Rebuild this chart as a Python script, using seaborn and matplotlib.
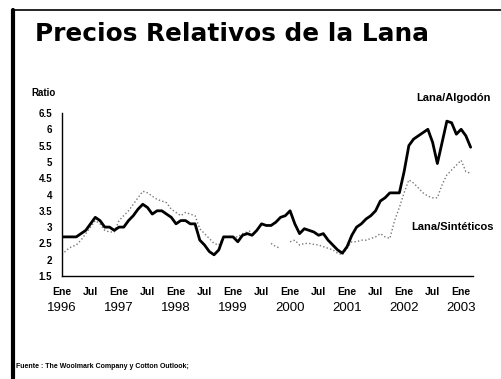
import numpy as np
import pandas as pd
import matplotlib
matplotlib.use("Agg")
import matplotlib.pyplot as plt
import seaborn as sns
from matplotlib.lines import Line2D

# ---- data (monthly, Jan 1996 = month 0 .. Mar 2003 = month 86) ----
months = list(range(87))
lana_algodon = [2.7, 2.7, 2.7, 2.7, 2.8, 2.9, 3.1, 3.3, 3.2, 3.0, 3.0, 2.9,
                3.0, 3.0, 3.2, 3.35, 3.55, 3.7, 3.6, 3.4, 3.5, 3.5, 3.4, 3.3,
                3.1, 3.2, 3.2, 3.1, 3.1, 2.6, 2.45, 2.25, 2.15, 2.3, 2.7, 2.7,
                2.7, 2.55, 2.75, 2.8, 2.75, 2.9, 3.1, 3.05, 3.05, 3.15, 3.3, 3.35,
                3.5, 3.1, 2.8, 2.95, 2.9, 2.85, 2.75, 2.8, 2.6, 2.45, 2.3, 2.2,
                2.4, 2.75, 3.0, 3.1, 3.25, 3.35, 3.5, 3.8, 3.9, 4.05, 4.05, 4.05,
                4.7, 5.5, 5.7, 5.8, 5.9, 6.0, 5.6, 4.95, 5.6, 6.25, 6.2, 5.85,
                6.0, 5.8, 5.45]
lana_sinteticos = [2.15, 2.3, 2.4, 2.45, 2.6, 2.8, 3.0, 3.2, 3.1, 2.9, 2.85, 2.85,
                   3.2, 3.35, 3.5, 3.7, 3.9, 4.1, 4.05, 3.95, 3.85, 3.8, 3.75, 3.55,
                   3.45, 3.35, 3.45, 3.4, 3.35, 2.95, 2.8, 2.65, 2.5, 2.45, 2.7, 2.7,
                   2.7, 2.7, 2.8, 2.85, 2.9, np.nan, np.nan, np.nan, 2.5, 2.4, 2.35, np.nan,
                   2.55, 2.6, 2.45, 2.5, 2.5, 2.47, 2.45, 2.4, 2.35, 2.3, 2.2, 2.15,
                   2.35, 2.55, 2.55, 2.6, 2.6, 2.65, 2.7, 2.8, 2.7, 2.65, 3.2, 3.6,
                   4.05, 4.45, 4.35, 4.2, 4.05, 3.95, 3.9, 3.9, 4.3, 4.6, 4.75, 4.9,
                   5.05, 4.7, 4.65]
tick_months = [0, 6, 12, 18, 24, 30, 36, 42, 48, 54, 60, 66, 72, 78, 84]
tick_labels = ["Ene", "Jul"] * 7 + ["Ene"]
years = ["1996", "1997", "1998", "1999", "2000", "2001", "2002", "2003"]
yticks = [1.5, 2, 2.5, 3, 3.5, 4, 4.5, 5, 5.5, 6, 6.5]

sns.set_theme(style="white")
plt.rcParams["font.family"] = ["Liberation Sans", "DejaVu Sans"]
plt.rcParams["text.color"] = "black"
plt.rcParams["xtick.color"] = "black"
plt.rcParams["ytick.color"] = "black"

df1 = pd.DataFrame({"mes": months, "ratio": lana_algodon})
seg = np.cumsum(np.isnan(lana_sinteticos))
df2 = pd.DataFrame({"mes": months, "ratio": lana_sinteticos, "seg": seg}).dropna()

fig = plt.figure(figsize=(5.01, 3.79), dpi=100)
ax = fig.add_axes([62 / 501, 1 - 276 / 379, (473 - 62) / 501, (276 - 113) / 379])

sns.lineplot(data=df2, x="mes", y="ratio", units="seg", estimator=None,
             color="#777777", linestyle=(0, (1, 1.6)), linewidth=1.0, ax=ax)
sns.lineplot(data=df1, x="mes", y="ratio", color="black", linewidth=2.0, ax=ax)

ax.set_xlim(0, 86.5)
ax.set_ylim(1.5, 6.5)
ax.set_xlabel("")
ax.set_ylabel("")
for s in ["top", "right"]:
    ax.spines[s].set_visible(False)
for s in ["left", "bottom"]:
    ax.spines[s].set_color("black")
    ax.spines[s].set_linewidth(1.0)

ax.set_yticks(yticks)
ax.set_yticklabels([f"{v:g}" for v in yticks], fontsize=7, fontweight="bold")
ax.tick_params(axis="y", length=2, width=0.8, pad=5, direction="out", color="black")
ax.set_xticks(tick_months)
ax.set_xticklabels(tick_labels, fontsize=7.5, fontweight="bold")
ax.tick_params(axis="x", length=3, width=0.8, pad=8, direction="in", color="black")

for i, y in enumerate(years):
    ax.text(tick_months[2 * i], -0.196, y, transform=ax.get_xaxis_transform(),
            ha="center", va="center", fontsize=9.5)

fig.text(35 / 501, 1 - 34 / 379, "Precios Relativos de la Lana", fontsize=17.8,
         fontweight="bold", family="DejaVu Sans", ha="left", va="center")
fig.text(31 / 501, 1 - 93 / 379, "Ratio", fontsize=7, fontweight="bold",
         ha="left", va="center")
fig.text(416 / 501, 1 - 98 / 379, "Lana/Algodón", fontsize=8, fontweight="bold",
         ha="left", va="center")
fig.text(411 / 501, 1 - 227 / 379, "Lana/Sintéticos", fontsize=8, fontweight="bold",
         ha="left", va="center")
fig.text(16 / 501, 1 - 367 / 379, "Fuente : The Woolmark Company y Cotton Outlook;",
         fontsize=5, fontweight="bold", ha="left", va="center")

# frame
fig.add_artist(Line2D([13 / 501, 13 / 501], [0, 1 - 10 / 379], color="black",
                      linewidth=3.0, transform=fig.transFigure))
fig.add_artist(Line2D([12 / 501, 1], [1 - 10 / 379, 1 - 10 / 379], color="black",
                      linewidth=1.2, transform=fig.transFigure))

fig.savefig("out.png", dpi=100)
